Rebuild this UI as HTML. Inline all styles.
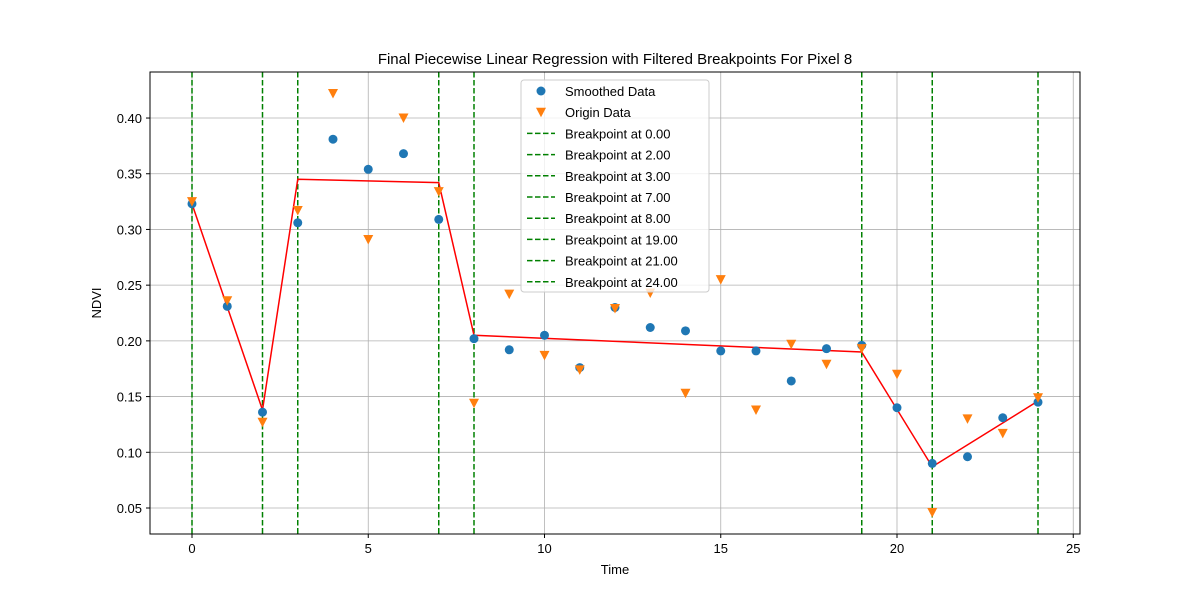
<!DOCTYPE html>
<html><head><meta charset="utf-8"><style>
body{margin:0;background:#fff;}
svg text{font-family:"Liberation Sans","DejaVu Sans",sans-serif;}
</style></head><body>
<svg id="chart" width="1200" height="600" xmlns="http://www.w3.org/2000/svg">
<rect width="1200" height="600" fill="#fff"/>
<g id="grid"></g>
<g id="vlines"></g>
<g id="fit"></g>
<g id="marks"></g>
<rect x="150" y="72" width="930" height="462" fill="none" stroke="#000" stroke-width="1"/>
<g id="axes"></g>
<text x="615" y="64" text-anchor="middle" font-size="15">Final Piecewise Linear Regression with Filtered Breakpoints For Pixel 8</text>
<text x="615" y="574" text-anchor="middle" font-size="13">Time</text>
<text x="101" y="303" text-anchor="middle" font-size="13" transform="rotate(-90 101 303)">NDVI</text>
<g id="legend"></g>
</svg>
<script>
const smoothed=[0.323,0.231,0.136,0.306,0.381,0.354,0.368,0.309,0.202,0.192,0.205,0.176,0.230,0.212,0.209,0.191,0.191,0.164,0.193,0.196,0.140,0.090,0.096,0.131,0.145];
const origin=[0.325,0.236,0.127,0.317,0.422,0.291,0.400,0.334,0.144,0.242,0.187,0.174,0.229,0.243,0.153,0.255,0.138,0.197,0.179,0.193,0.170,0.046,0.130,0.117,0.149];
const breakpoints=[0,2,3,7,8,19,21,24];
const fitX=[0,2,3,7,8,19,21,24];
const fitY=[0.323,0.138,0.345,0.342,0.205,0.190,0.087,0.146];
const xTicks=[0,5,10,15,20,25];
const yTicks=[0.05,0.10,0.15,0.20,0.25,0.30,0.35,0.40];
const NS="http://www.w3.org/2000/svg";
const X=v=>192+v*35.25;
const Y=v=>508-(v-0.05)/0.05*55.71;
function mk(tag,attrs,parent){const e=document.createElementNS(NS,tag);for(const k in attrs)e.setAttribute(k,attrs[k]);parent.appendChild(e);return e;}
const grid=document.getElementById('grid'),axes=document.getElementById('axes');
xTicks.forEach(t=>{
 let l=mk('line',{x1:X(t),x2:X(t),y1:72,y2:534,stroke:'#b0b0b0','stroke-width':0.8},grid);
 
 
 let k=mk('line',{x1:X(t),x2:X(t),y1:534,y2:538,stroke:'#000'},axes);
 
 
 let tx=mk('text',{x:X(t),y:553,'text-anchor':'middle','font-size':13},axes);tx.textContent=t;
 
 
});
yTicks.forEach(t=>{
 let l=mk('line',{x1:150,x2:1080,y1:Y(t),y2:Y(t),stroke:'#b0b0b0','stroke-width':0.8},grid);
 
 
 let k=mk('line',{x1:146,x2:150,y1:Y(t),y2:Y(t),stroke:'#000'},axes);
 
 
 let tx=mk('text',{x:142,y:Y(t)+5,'text-anchor':'end','font-size':13},axes);tx.textContent=t.toFixed(2);
 
 
});
const vl=document.getElementById('vlines');
breakpoints.forEach(b=>{
 let l=mk('line',{x1:X(b),x2:X(b),y1:72,y2:534,stroke:'#008000','stroke-width':1.5,'stroke-dasharray':'5.5,2.5'},vl);
 
 
});
const marks=document.getElementById('marks');
smoothed.forEach((v,i)=>{
 let c=mk('circle',{cx:X(i),cy:Y(v),r:4.5,fill:'#1f77b4'},marks);
 
 
});
origin.forEach((v,i)=>{
 const x=X(i),y=Y(v);
 let p=mk('polygon',{points:`${x-5},${y-4.5} ${x+5},${y-4.5} ${x},${y+5}`,fill:'#ff7f0e'},marks);
 
 
});
let pl=mk('polyline',{points:fitX.map((x,i)=>X(x)+','+Y(fitY[i])).join(' '),fill:'none',stroke:'#ff0000','stroke-width':1.5},document.getElementById('fit'));


const lg=document.getElementById('legend');
let box=mk('rect',{x:521,y:80,width:188,height:212,rx:3,fill:'#fff','fill-opacity':0.8,stroke:'#ccc'},lg);


const labels=['Smoothed Data','Origin Data'].concat(breakpoints.map(b=>'Breakpoint at '+b.toFixed(2)));
labels.forEach((t,i)=>{
 const y=91+i*21.2;
 if(i===0){let c=mk('circle',{cx:541,cy:y,r:4.5,fill:'#1f77b4'},lg);}
 else if(i===1){let p=mk('polygon',{points:`536,${y-4.5} 546,${y-4.5} 541,${y+5}`,fill:'#ff7f0e'},lg);}
 else{let l=mk('line',{x1:527,x2:555,y1:y,y2:y,stroke:'#008000','stroke-width':1.5,'stroke-dasharray':'5.5,2.5'},lg);}
 let tx=mk('text',{x:565,y:y+5,'font-size':13},lg);tx.textContent=t;
 
 
});
</script>
</body></html>
